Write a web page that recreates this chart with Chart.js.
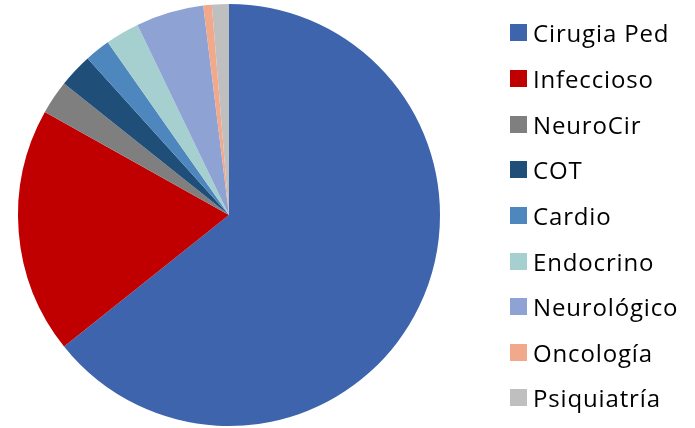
<!DOCTYPE html>
<html>
<head>
<meta charset="utf-8">
<script src="https://cdn.jsdelivr.net/npm/chart.js@4.4.0/dist/chart.umd.min.js"></script>
<style>
  html, body { margin: 0; padding: 0; background: #fff; }
  #wrap { position: relative; width: 695px; height: 428px; }
  #pieChart { position: absolute; left: 0; top: 0; }
  #legend { position: absolute; left: 510px; top: 10px; margin: 0; padding: 0; list-style: none;
            font-family: 'Open Sans', sans-serif; font-size: 24px; color: #000; letter-spacing: 0.85px; }
  #legend li { height: 45.65px; display: flex; align-items: center; white-space: nowrap; }
  #legend .box { display: inline-block; width: 17px; height: 17px; margin-right: 6px; flex: none; }
</style>
</head>
<body>
<div id="wrap">
  <canvas id="pieChart" width="695" height="428"></canvas>
  <ul id="legend"></ul>
</div>
<script>
// Servicios (conteo por especialidad)
const servicios = ['Cirugia Ped', 'Infeccioso', 'NeuroCir', 'COT', 'Cardio', 'Endocrino', 'Neurológico', 'Oncología', 'Psiquiatría'];
const casos = [99, 29, 4, 4, 3, 4, 8, 1, 2];
const colores = ['#3D64AD', '#C00000', '#7F7F7F', '#1F4E79', '#4E87BD', '#A6D0D0', '#8EA3D4', '#F2A88B', '#BFBFBF'];

const ctx = document.getElementById('pieChart').getContext('2d');
window._pieChart = new Chart(ctx, {
  type: 'pie',
  data: {
    labels: servicios,
    datasets: [{
      data: casos,
      backgroundColor: colores,
      borderWidth: 0
    }]
  },
  options: {
    responsive: false,
    animation: false,
    // el área del gráfico queda a la izquierda, la leyenda va aparte
    layout: { padding: { left: 18, top: 4, bottom: 2, right: 255 } },
    plugins: {
      tooltip: { enabled: false },
      legend: { display: false }
    }
  }
});

// Leyenda a partir de los mismos datos del gráfico
const legendEl = document.getElementById('legend');
window._pieChart.data.labels.forEach((label, i) => {
  const li = document.createElement('li');
  li.innerHTML = `<span class="box" style="background:${colores[i]}"></span><span>${label}</span>`;
  legendEl.appendChild(li);
});
</script>
</body>
</html>
